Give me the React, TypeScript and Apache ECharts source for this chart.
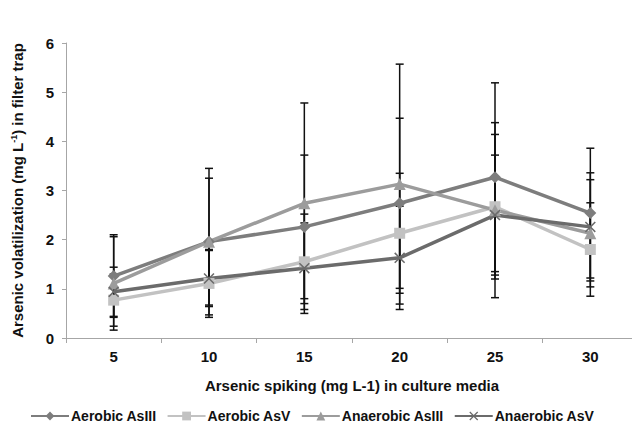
import React, { useEffect, useRef } from "react";
import * as echarts from "echarts";

const categories = ["5", "10", "15", "20", "25", "30"];
const seriesNames = ["Aerobic AsIII", "Aerobic AsV", "Anaerobic AsIII", "Anaerobic AsV"];

const aerobicAsIII = [1.26, 1.96, 2.26, 2.74, 3.27, 2.54];
const aerobicAsV = [0.77, 1.11, 1.55, 2.13, 2.67, 1.8];
const anaerobicAsIII = [1.11, 1.96, 2.74, 3.13, 2.6, 2.13];
const anaerobicAsV = [0.94, 1.21, 1.42, 1.63, 2.5, 2.26];

const aerobicAsIIIErr = [0.84, 1.49, 1.46, 1.73, 1.92, 1.32];
const aerobicAsVErr = [0.53, 0.69, 0.97, 1.22, 1.47, 0.95];
const anaerobicAsIIIErr = [0.95, 1.29, 2.04, 2.44, 1.78, 1.09];
const anaerobicAsVErr = [0.5, 0.57, 0.92, 1.05, 1.22, 1.1];

const yTicks = { min: 0, max: 6, interval: 1 };

const FONT = "Arial, 'Liberation Sans', Helvetica, sans-serif";
const X_SYMBOL =
  "path://M0,1 L1,0 L5,4 L9,0 L10,1 L6,5 L10,9 L9,10 L5,6 L1,10 L0,9 L4,5 Z";

export default function App() {
  const ref = useRef<HTMLDivElement>(null);

  useEffect(() => {
    if (!ref.current) return;
    const chart = echarts.init(ref.current, null, { renderer: "svg" });

    const means = [aerobicAsIII, aerobicAsV, anaerobicAsIII, anaerobicAsV];
    const errs = [aerobicAsIIIErr, aerobicAsVErr, anaerobicAsIIIErr, anaerobicAsVErr];
    const colors = ["#7d7d7d", "#c2c2c2", "#9c9c9c", "#6b6b6b"];
    const symbols = ["diamond", "rect", "triangle", X_SYMBOL];
    const symbolSizes = [12, 11, 12, 11];

    const errData: number[][] = [];
    means.forEach((m, s) => {
      m.forEach((v, i) => {
        errData.push([i, v - errs[s][i], v + errs[s][i]]);
      });
    });

    const lineSeries = means.map((m, s) => ({
      name: seriesNames[s],
      type: "line",
      data: m,
      z: 3,
      symbol: symbols[s],
      symbolSize: symbolSizes[s],
      showAllSymbol: true,
      lineStyle: { color: colors[s], width: 3.5 },
      itemStyle: { color: colors[s] },
    }));

    chart.setOption({
      animation: false,
      backgroundColor: "#ffffff",
      grid: {
        left: 66,
        right: -6,
        top: 43,
        bottom: 89,
        containLabel: false,
        outerBoundsMode: "none",
      },
      legend: {
        data: seriesNames,
        left: 25,
        top: 404,
        itemWidth: 38,
        itemHeight: 11,
        itemGap: 10,
        textStyle: {
          fontFamily: FONT,
          fontWeight: "bold",
          fontSize: 14,
          color: "#111",
          padding: [0, 0, 0, -3],
        },
      },
      xAxis: {
        type: "category",
        data: categories,
        boundaryGap: true,
        axisLine: { lineStyle: { color: "#a6a6a6", width: 1 } },
        axisTick: { show: true, length: 5, lineStyle: { color: "#a6a6a6" } },
        axisLabel: {
          fontFamily: FONT,
          fontWeight: "bold",
          fontSize: 15,
          color: "#111",
          margin: 11,
        },
        splitLine: { show: false },
        name: "Arsenic spiking (mg L-1) in culture media",
        nameLocation: "middle",
        nameGap: 40,
        nameTextStyle: {
          fontFamily: FONT,
          fontWeight: "bold",
          fontSize: 15,
          color: "#111",
        },
      },
      yAxis: {
        type: "value",
        min: yTicks.min,
        max: yTicks.max,
        interval: yTicks.interval,
        axisLine: { show: true, lineStyle: { color: "#a6a6a6", width: 1 } },
        axisTick: { show: true, length: 4, lineStyle: { color: "#a6a6a6" } },
        axisLabel: {
          fontFamily: FONT,
          fontWeight: "bold",
          fontSize: 15,
          color: "#111",
          margin: 12,
        },
        splitLine: { show: false },
        name: "Arsenic volatilization (mg L{sup|-1}) in filter trap",
        nameLocation: "middle",
        nameGap: 40,
        nameTextStyle: {
          fontFamily: FONT,
          fontWeight: "bold",
          fontSize: 15,
          color: "#111",
          rich: {
            sup: {
              fontFamily: FONT,
              fontWeight: "bold",
              fontSize: 9,
              color: "#111",
              verticalAlign: "top",
              padding: [0, 0, 8, 0],
            },
          },
        },
      },
      series: [
        {
          type: "custom",
          z: 1,
          silent: true,
          data: errData,
          renderItem: (params: any, api: any) => {
            const idx = api.value(0);
            const lo = api.coord([idx, api.value(1)]);
            const hi = api.coord([idx, api.value(2)]);
            const cap = 4;
            const style = { stroke: "#111", lineWidth: 1.5 };
            return {
              type: "group",
              children: [
                { type: "line", shape: { x1: lo[0], y1: lo[1], x2: hi[0], y2: hi[1] }, style },
                { type: "line", shape: { x1: lo[0] - cap, y1: lo[1], x2: lo[0] + cap, y2: lo[1] }, style },
                { type: "line", shape: { x1: hi[0] - cap, y1: hi[1], x2: hi[0] + cap, y2: hi[1] }, style },
              ],
            };
          },
        },
        ...lineSeries,
      ],
    });

    return () => chart.dispose();
  }, []);

  return <div ref={ref} style={{ width: 632, height: 427, position: "absolute", left: 0, top: 0 }} />;
}
